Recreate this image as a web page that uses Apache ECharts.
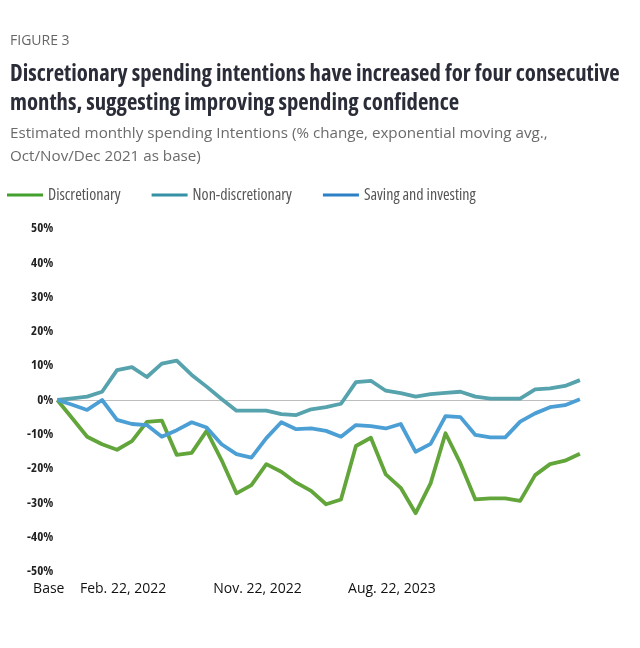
<!DOCTYPE html>
<html>
<head>
<meta charset="utf-8">
<script src="https://cdn.jsdelivr.net/npm/echarts@6/dist/echarts.min.js"></script>
<style>
html,body{margin:0;padding:0;background:#fff;}
#chart{width:640px;height:648px;}
</style>
</head>
<body>
<div id="chart"></div>
<script>
var categories = ["Base","Dec. 22, 2021","Jan. 22, 2022","Feb. 22, 2022","Mar. 22, 2022","Apr. 22, 2022","May 22, 2022","Jun. 22, 2022","Jul. 22, 2022","Aug. 22, 2022","Sep. 22, 2022","Oct. 22, 2022","Nov. 22, 2022","Dec. 22, 2022","Jan. 22, 2023","Feb. 22, 2023","Mar. 22, 2023","Apr. 22, 2023","May 22, 2023","Jun. 22, 2023","Jul. 22, 2023","Aug. 22, 2023","Sep. 22, 2023","Oct. 22, 2023","Nov. 22, 2023","Dec. 22, 2023","Jan. 22, 2024","Feb. 22, 2024","Mar. 22, 2024","Apr. 22, 2024","May 22, 2024","Jun. 22, 2024","Jul. 22, 2024","Aug. 22, 2024","Sep. 22, 2024","Oct. 22, 2024"];
var shownLabels = ["Base","Feb. 22, 2022","Nov. 22, 2022","Aug. 22, 2023"];
var discretionary = [0,-5.3,-10.7,-12.9,-14.5,-12.0,-6.4,-6.0,-16.0,-15.4,-9.0,-17.5,-27.2,-24.8,-18.7,-20.9,-24.1,-26.5,-30.4,-29.0,-13.4,-11.0,-21.7,-25.6,-33.0,-24.3,-9.7,-18.5,-29.0,-28.7,-28.7,-29.4,-21.9,-18.7,-17.7,-15.7];
var nonDiscretionary = [0,0.5,1.0,2.4,8.7,9.6,6.7,10.6,11.5,7.3,3.9,0.3,-3.1,-3.1,-3.1,-4.1,-4.4,-2.7,-2.1,-1.1,5.2,5.6,2.7,2.0,1.0,1.7,2.1,2.4,1.0,0.4,0.4,0.4,3.1,3.4,4.1,5.8];
var savingInvesting = [0,-1.4,-2.9,0,-5.8,-7.0,-7.3,-10.7,-8.8,-6.5,-8.0,-12.9,-15.8,-16.8,-11.1,-6.5,-8.5,-8.3,-9.0,-10.7,-7.3,-7.6,-8.3,-7.0,-15.1,-12.8,-4.7,-5.0,-10.2,-10.9,-10.9,-6.3,-3.9,-2.1,-1.5,0.2];
var seriesNames = ["Discretionary","Non-discretionary","Saving and investing"];
var yTicks = {min:-50, max:50, step:10};

var lineColors = ["#62a53a","#56a2ad","#4c9fd4"];
var legendColors = ["#43a02c","#3592a6","#2b80c6"];

var chart = echarts.init(document.getElementById('chart'), null, {renderer:'canvas'});
var option = {
  animation:false,
  backgroundColor:'#ffffff',
  title:[
    {text:'FIGURE 3', left:10, top:34, padding:0, textStyle:{fontFamily:'Open Sans', fontSize:14, fontWeight:'normal', color:'#666666'}},
    {text:'Discretionary spending intentions have increased for four consecutive\nmonths, suggesting improving spending confidence', left:10, top:60, padding:0,
      textStyle:{fontFamily:'Open Sans', fontStyle:'condensed', fontWeight:'bold', fontSize:22.7, lineHeight:29, color:'#2a2c38'}},
    {text:'Estimated monthly spending Intentions (% change, exponential moving avg.,\nOct/Nov/Dec 2021 as base)', left:10, top:122, padding:0,
      textStyle:{fontFamily:'Open Sans', fontSize:15.2, fontWeight:'normal', lineHeight:23, color:'#6b6b6b'}}
  ],
  legend:{
    left:7, top:187, padding:0, icon:'rect', itemWidth:36, itemHeight:3, itemGap:31,
    textStyle:{fontFamily:'Open Sans', fontStyle:'condensed', fontSize:16, color:'#555555'},
    data: seriesNames.map(function(n,i){return {name:n, itemStyle:{color:legendColors[i]}};})
  },
  grid:{left:57.3, right:60.1, top:228.5, bottom:648-571.5, containLabel:false},
  xAxis:{
    type:'category', data:categories, boundaryGap:false,
    axisLine:{show:false, onZero:false}, axisTick:{show:false}, splitLine:{show:false},
    axisLabel:{
      margin:11, interval:0, hideOverlap:false,
      formatter:function(val){
        if (shownLabels.indexOf(val) < 0) return '';
        return val === 'Base' ? '{t|' + val + '}{sp| }' : '{sp2| }{t|' + val + '}';
      },
      rich:{
        t:{fontFamily:'Open Sans', fontSize:14, color:'#111111'},
        sp:{width:17, fontSize:14},
        sp2:{width:42, fontSize:14}
      }
    }
  },
  yAxis:{
    type:'value', min:yTicks.min, max:yTicks.max, interval:yTicks.step,
    axisLine:{show:false}, axisTick:{show:false}, splitLine:{show:false},
    axisLabel:{margin:4, formatter:'{value}%', fontFamily:'Open Sans', fontStyle:'condensed', fontWeight:'bold', fontSize:13, color:'#222222'}
  },
  series: [discretionary, nonDiscretionary, savingInvesting].map(function(d,i){
    var s = {
      name:seriesNames[i], type:'line', data:d, symbol:'none', smooth:false,
      lineStyle:{width:3.8, color:lineColors[i], join:'round'},
      itemStyle:{color:legendColors[i]}, z:3+i
    };
    if(i===0){
      s.markLine = {silent:true, symbol:'none', label:{show:false}, z:1,
        lineStyle:{color:'#bdbdbd', width:1, type:'solid'}, data:[{yAxis:0}]};
    }
    return s;
  })
};
chart.setOption(option);
</script>
</body>
</html>
